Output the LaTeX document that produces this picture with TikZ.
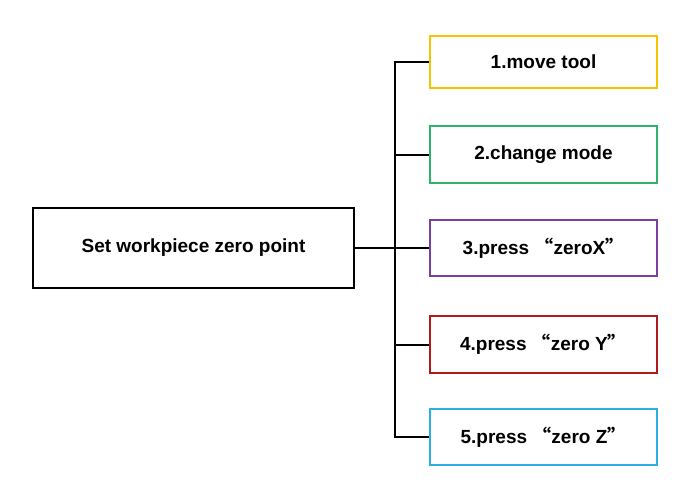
\documentclass[tikz,border=0pt]{standalone}
\usepackage{fontspec}
\setmainfont{Liberation Sans}
\newfontfamily\cjk{Noto Sans CJK SC}
\definecolor{cy}{HTML}{F5C400}
\definecolor{cg}{HTML}{2DB36A}
\definecolor{cp}{HTML}{7B3FA0}
\definecolor{cr}{HTML}{B01A1A}
\definecolor{cc}{HTML}{2AB0E0}
\newcommand{\myoq}{{\cjk “}}
\newcommand{\mycq}{{\cjk ”}}
\begin{document}
\begin{tikzpicture}[x=1pt,y=-1pt,
  box/.style={draw,line width=2pt,minimum width=227pt,minimum height=55pt,font=\bfseries\fontsize{19}{22}\selectfont,inner sep=0pt},
  conn/.style={line width=2pt}]
\useasboundingbox (0,0) rectangle (695,493);
\node[draw,line width=2pt,minimum width=321pt,minimum height=80pt,font=\bfseries\fontsize{19}{22}\selectfont] (s) at (193.5,248) {Set workpiece zero point};
\node[box,draw=cy,minimum height=52pt] (b1) at (543.5,62) {1.move tool};
\node[box,draw=cg,minimum height=57pt] (b2) at (543.5,154.5) {2.change mode};
\node[box,draw=cp,minimum height=56pt] (b3) at (543.5,248) {3.press \myoq zeroX\mycq};
\node[box,draw=cr,minimum height=57pt] (b4) at (543.5,344.5) {4.press \myoq zero Y\mycq};
\node[box,draw=cc,minimum height=56pt] (b5) at (543.5,437) {5.press \myoq zero Z\mycq};
\coordinate (t) at (395,62);
\coordinate (u) at (395,437);
\draw[conn] (b1.west) -- (t) -- (u) -- (b5.west);
\draw[conn] (395,154.5) -- (b2.west);
\draw[conn] (s.east) -- (b3.west);
\draw[conn] (395,344.5) -- (b4.west);
\end{tikzpicture}
\end{document}
